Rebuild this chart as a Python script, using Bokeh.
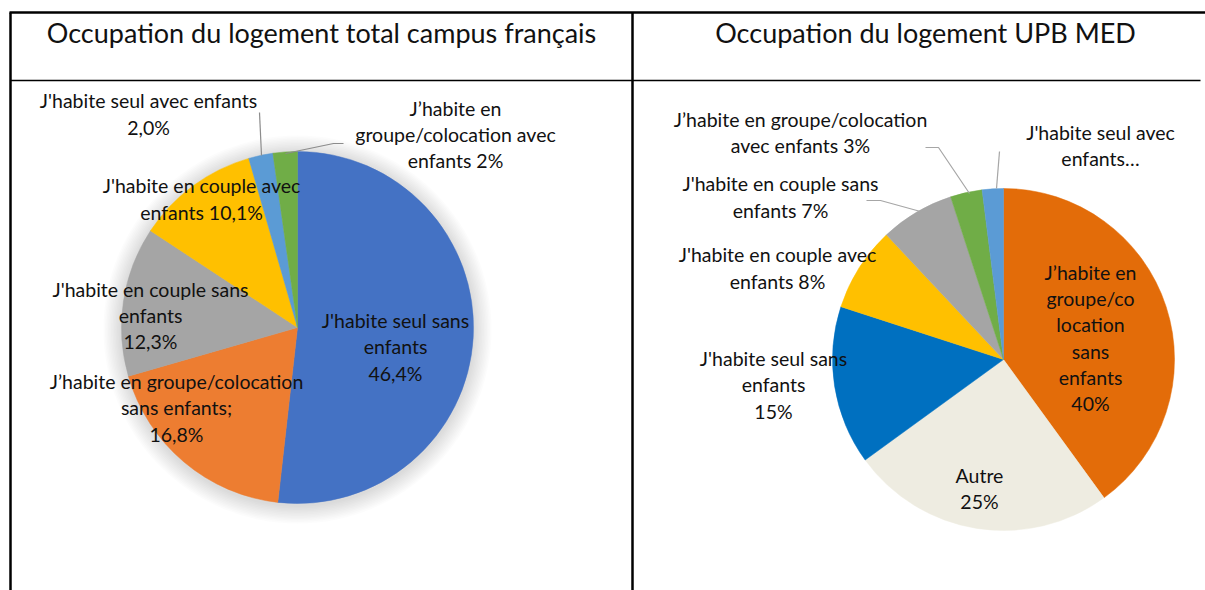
import math
from bokeh.plotting import figure
from bokeh.models import Range1d
from bokeh.core.properties import value
from bokeh.embed import file_html
from bokeh.resources import INLINE

# ---------------- data ----------------
title_left = "Occupation du logement total campus français"
title_right = "Occupation du logement UPB MED"

left_cats = ["J'habite seul sans enfants", "J’habite en groupe/colocation sans enfants",
             "J'habite en couple sans enfants", "J'habite en couple avec enfants",
             "J'habite seul avec enfants", "J’habite en groupe/colocation avec enfants"]
left_vals = [46.4, 16.8, 12.3, 10.1, 2.0, 2.0]
left_labels = ["J'habite seul sans\nenfants\n46,4%", "J’habite en groupe/colocation\nsans enfants;\n16,8%",
               "J'habite en couple sans\nenfants\n12,3%", "J'habite en couple avec\nenfants 10,1%",
               "J'habite seul avec enfants\n2,0%", "J’habite en\ngroupe/colocation avec\nenfants 2%"]
left_colors = ["#4472C4", "#ED7D31", "#A5A5A5", "#FFC000", "#5B9BD5", "#70AD47"]

right_cats = ["J’habite en groupe/colocation sans enfants", "Autre", "J'habite seul sans enfants",
              "J'habite en couple avec enfants", "J'habite en couple sans enfants",
              "J’habite en groupe/colocation avec enfants", "J'habite seul avec enfants"]
right_vals = [40, 25, 15, 8, 7, 3, 2]
right_labels = ["J’habite en\ngroupe/co\nlocation\nsans\nenfants\n40%", "Autre\n25%",
                "J'habite seul sans\nenfants\n15%", "J'habite en couple avec\nenfants 8%",
                "J'habite en couple sans\nenfants 7%", "J’habite en groupe/colocation\navec enfants 3%",
                "J'habite seul avec\nenfants…"]
right_colors = ["#E36C09", "#EEECE1", "#0070C0", "#FFC000", "#A5A5A5", "#70AD47", "#5B9BD5"]

# ---------------- layout helpers ----------------
W, H = 1205, 590
FONT = value("Lato")


def Y(y):  # reference pixel row -> data y
    return H - y


p = figure(width=W, height=H, x_range=Range1d(0, W), y_range=Range1d(0, H),
           output_backend="svg", toolbar_location=None, min_border=0,
           background_fill_color="white", border_fill_color="white")
p.axis.visible = False
p.grid.visible = False
p.outline_line_color = None

# table borders
p.segment(x0=[9, 10, 632, 10], y0=[Y(12), Y(12), Y(12), Y(80)],
          x1=[1205, 10, 632, 1200], y1=[Y(12), Y(590), Y(590), Y(80)],
          line_color="black", line_width=[2.5, 2.5, 2.5, 1.5])

# titles
p.text(x=[321, 925], y=[Y(32), Y(32)], text=[title_left, title_right],
       text_font=FONT, text_font_size="27px", text_color="#111111",
       text_align="center", text_baseline="middle")


def pie(cx, cy, r, vals, colors):
    tot = sum(vals)
    cum = 0.0
    starts, ends = [], []
    for v in vals:
        starts.append(math.pi / 2 - 2 * math.pi * cum / tot)
        cum += v
        ends.append(math.pi / 2 - 2 * math.pi * cum / tot)
    p.wedge(x=cx, y=Y(cy), radius=r, start_angle=starts, end_angle=ends,
            direction="clock", fill_color=colors, line_color=colors, line_width=0.5)


# soft shadow of left pie
for i in range(12):
    p.circle(x=297, y=Y(329), radius=176 + 18 - i * 1.5, fill_color="#808080",
             fill_alpha=0.022, line_color=None)

pie(297, 327, 176, left_vals, left_colors)
pie(1003, 359, 171, right_vals, right_colors)

# leader lines
p.line(x=[259, 261], y=[Y(112), Y(155)], line_color="#8c8c8c", line_width=1.2)
p.line(x=[285, 333, 343], y=[Y(153), Y(143), Y(143)], line_color="#8c8c8c", line_width=1.2)
p.line(x=[925, 938, 969], y=[Y(147), Y(147), Y(193)], line_color="#a6a6a6", line_width=1.2)
p.line(x=[999, 996], y=[Y(151), Y(188)], line_color="#a6a6a6", line_width=1.2)
p.line(x=[866, 880, 920], y=[Y(200), Y(200), Y(211)], line_color="#a6a6a6", line_width=1.2)

# data labels
LS = 19.5
left_pos = [(395, 346.5), (176, 407.5), (150, 315), (201, 198.5), (148, 113.5), (455, 134)]
right_pos = [(1090, 337.5), (979, 488), (773, 384.5), (777, 267.5), (780, 196.5), (800, 132), (1100, 145)]
for labels, pos in ((left_labels, left_pos), (right_labels, right_pos)):
    p.text(x=[q[0] for q in pos], y=[Y(q[1]) for q in pos], text=labels,
           text_font=FONT, text_font_size=f"{LS}px", text_color="#111111",
           text_align="center", text_baseline="middle", text_line_height=1.14)

open("out.html", "w").write(file_html(p, INLINE))
